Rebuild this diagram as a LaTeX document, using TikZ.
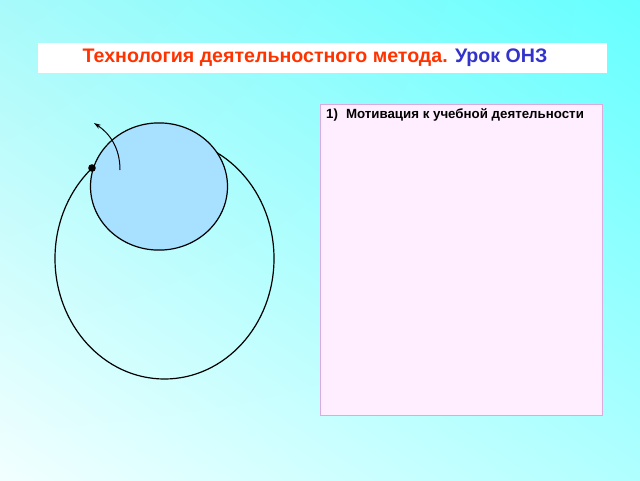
\documentclass[tikz,border=0pt]{standalone}
\usepackage{fontspec}
\setmainfont{Liberation Sans}
\usetikzlibrary{arrows.meta,shadings}
\definecolor{bgTL}{HTML}{A8FAFA}
\definecolor{bgTR}{HTML}{66FFFF}
\definecolor{bgBL}{HTML}{F2FFFF}
\definecolor{bgBR}{HTML}{B0FFFF}
\definecolor{titlered}{HTML}{FF3300}
\definecolor{titleblue}{HTML}{3333CC}
\definecolor{pinkfill}{HTML}{FFEEFF}
\definecolor{pinkline}{HTML}{DDAADD}
\definecolor{circfill}{HTML}{A8E0FF}
\tikzset{
  x=1pt, y=-1pt,
  curve/.style={draw=black, line width=1.2pt},
  titlebox/.style={draw=none, fill=white, minimum width=569pt, minimum height=30pt, inner sep=0pt},
  panel/.style={draw=pinkline, fill=pinkfill, line width=0.8pt, minimum width=282pt, minimum height=311pt, inner sep=0pt},
}
\begin{document}
\begin{tikzpicture}
\useasboundingbox (0,0) rectangle (640,480);
\shade[upper left=bgTL, upper right=bgTR, lower left=bgBL, lower right=bgBR] (0,0) rectangle (640,480);
% title
\node[titlebox] (title) at (322.5,58) {};
\node[font=\bfseries\fontsize{19.6}{22}\selectfont, inner sep=0pt] (titletext) at (315,58)
  {\textcolor{titlered}{Технология деятельностного метода.} \textcolor{titleblue}{Урок ОНЗ}};
% panel
\node[panel] (panel) at (461,259.5) {};
\node[font=\bfseries\fontsize{13.3}{15}\selectfont, anchor=west, inner sep=0pt] (item) at (326,115)
  {1)\hspace{0.6em}Мотивация к учебной деятельности};
% big ellipse
\draw[curve] (164.5,258.5) ellipse [x radius=109.5, y radius=120.5];
% small circle
\draw[curve, fill=circfill] (159,186.5) ellipse [x radius=68.5, y radius=63.6];
% dot and arrow
\fill (92,168) circle [radius=3.8] coordinate (dot);
\coordinate (a0) at (120,170);
\coordinate (a1) at (94,123);
\draw[curve, line width=1pt, -{Stealth[length=7pt,width=4.5pt]}] (a0) .. controls (120,147) and (109,133) .. (a1);
\end{tikzpicture}
\end{document}
